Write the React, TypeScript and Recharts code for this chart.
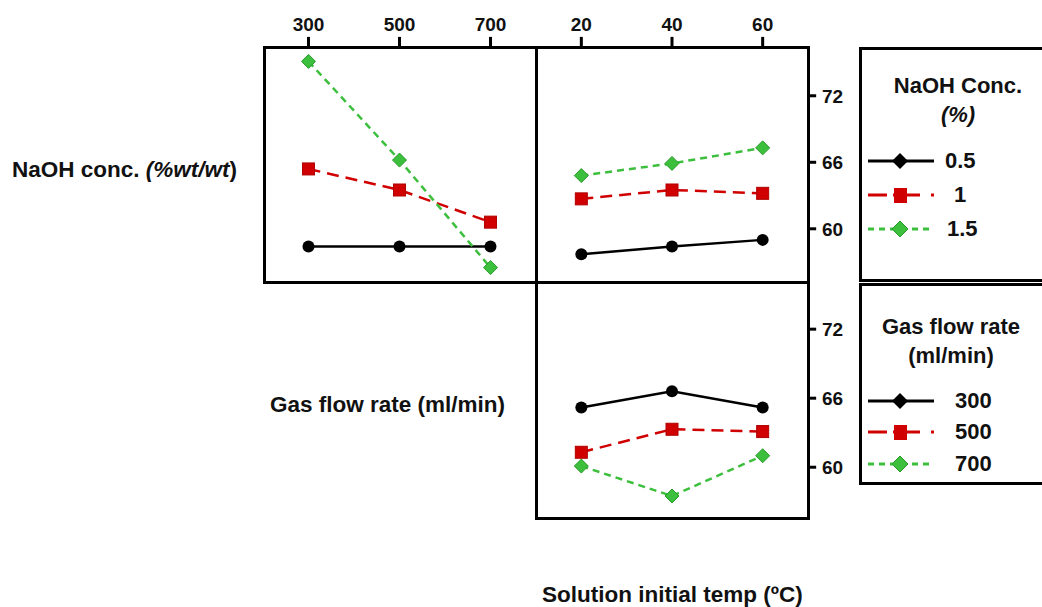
import { LineChart, Line, XAxis, YAxis, ReferenceLine } from "recharts";

const gasFlow = [300, 500, 700];
const temps = [20, 40, 60];

// top-left: yield vs gas flow, one line per NaOH conc.
const naoh05VsGas = [58.4, 58.4, 58.4];
const naoh1VsGas = [65.4, 63.5, 60.6];
const naoh15VsGas = [75.1, 66.2, 56.5];

// top-right: yield vs temp, one line per NaOH conc.
const naoh05VsTemp = [57.7, 58.4, 59.0];
const naoh1VsTemp = [62.7, 63.5, 63.2];
const naoh15VsTemp = [64.8, 65.9, 67.3];

// bottom-right: yield vs temp, one line per gas flow rate
const gas300VsTemp = [65.2, 66.6, 65.2];
const gas500VsTemp = [61.3, 63.3, 63.1];
const gas700VsTemp = [60.1, 57.5, 61.0];

const yTicks = [60, 66, 72];
const naohLabels = ["0.5", "1", "1.5"];
const gasLabels = ["300", "500", "700"];

const BLACK = "#000000";
const RED = "#d00000";
const GREEN = "#3cbf3c";
const FONT = "'Liberation Sans', Arial, sans-serif";

const TOP_Y_DOMAIN: [number, number] = [55.2, 76.4];
const BOTTOM_Y_DOMAIN: [number, number] = [55.5, 76.1];
const GAS_DOMAIN: [number, number] = [200, 800];
const TEMP_DOMAIN: [number, number] = [10, 70];

const gasData = gasFlow.map((x, i) => ({
  x,
  a: naoh05VsGas[i],
  b: naoh1VsGas[i],
  c: naoh15VsGas[i],
}));
const tempNaohData = temps.map((x, i) => ({
  x,
  a: naoh05VsTemp[i],
  b: naoh1VsTemp[i],
  c: naoh15VsTemp[i],
}));
const tempGasData = temps.map((x, i) => ({
  x,
  a: gas300VsTemp[i],
  b: gas500VsTemp[i],
  c: gas700VsTemp[i],
}));

function circleDot(props: any) {
  const { cx, cy, index } = props;
  return <circle key={`c-${index}`} cx={cx} cy={cy} r={6} fill={BLACK} />;
}

function squareDot(props: any) {
  const { cx, cy, index } = props;
  return (
    <rect key={`s-${index}`} x={cx - 6} y={cy - 6} width={12} height={12} fill={RED} stroke="#b00000" strokeWidth={1} />
  );
}

function diamondDot(props: any) {
  const { cx, cy, index } = props;
  const s = 7;
  return (
    <polygon
      key={`d-${index}`}
      points={`${cx},${cy - s} ${cx + s},${cy} ${cx},${cy + s} ${cx - s},${cy}`}
      fill={GREEN}
      stroke="#2a9a2a"
      strokeWidth={1}
    />
  );
}

function TopTick(props: any) {
  const x = Number(props.x);
  const y = Number(props.y);
  return (
    <text x={x} y={y - 2} textAnchor="middle" fontSize={19} fontWeight={700} fill="#111" fontFamily={FONT}>
      {props.payload.value}
    </text>
  );
}

function RightTick(props: any) {
  const x = Number(props.x);
  const y = Number(props.y);
  return (
    <text x={x} y={y + 7} textAnchor="start" fontSize={19} fontWeight={700} fill="#111" fontFamily={FONT}>
      {props.payload.value}
    </text>
  );
}

// short tick marks outside the frame, placed in data units through the scales
function topTickMarks(values: number[], yDomain: [number, number]) {
  const top = yDomain[1];
  const len = (yDomain[1] - yDomain[0]) * 0.043;
  return values.map((v) => (
    <ReferenceLine
      key={`tt-${v}`}
      segment={[
        { x: v, y: top },
        { x: v, y: top + len },
      ]}
      stroke="#000"
      strokeWidth={3}
      ifOverflow="visible"
    />
  ));
}

function rightTickMarks(values: number[], xDomain: [number, number]) {
  const right = xDomain[1];
  const len = (xDomain[1] - xDomain[0]) * 0.03;
  return values.map((v) => (
    <ReferenceLine
      key={`rt-${v}`}
      segment={[
        { x: right, y: v },
        { x: right + len, y: v },
      ]}
      stroke="#000"
      strokeWidth={3}
      ifOverflow="visible"
    />
  ));
}

function Series() {
  return [
    <Line key="a" dataKey="a" stroke={BLACK} strokeWidth={2.5} dot={circleDot} isAnimationActive={false} />,
    <Line key="b" dataKey="b" stroke={RED} strokeWidth={2.5} strokeDasharray="12 7" dot={squareDot} isAnimationActive={false} />,
    <Line key="c" dataKey="c" stroke={GREEN} strokeWidth={2.5} strokeDasharray="7 5" dot={diamondDot} isAnimationActive={false} />,
  ];
}

function Box({ left, top, width, height }: { left: number; top: number; width: number; height: number }) {
  return (
    <div
      style={{
        position: "absolute",
        left,
        top,
        width,
        height,
        border: "3px solid #000",
        boxSizing: "border-box",
        pointerEvents: "none",
      }}
    />
  );
}

function LegendSample({ kind }: { kind: "a" | "b" | "c" }) {
  if (kind === "a") {
    return (
      <svg width={72} height={20}>
        <line x1={2} y1={10} x2={68} y2={10} stroke={BLACK} strokeWidth={3} />
        <polygon points="34,2 42,10 34,18 26,10" fill={BLACK} />
      </svg>
    );
  }
  if (kind === "b") {
    return (
      <svg width={72} height={20}>
        <line x1={2} y1={10} x2={21} y2={10} stroke={RED} strokeWidth={3} />
        <line x1={27} y1={10} x2={54} y2={10} stroke={RED} strokeWidth={3} />
        <line x1={65} y1={10} x2={68} y2={10} stroke={RED} strokeWidth={3} />
        <rect x={28} y={3} width={13} height={15} fill={RED} />
      </svg>
    );
  }
  return (
    <svg width={72} height={20}>
      <line x1={2} y1={10} x2={68} y2={10} stroke={GREEN} strokeWidth={3} strokeDasharray="6 5" />
      <polygon points="34,2 42,10 34,18 26,10" fill={GREEN} stroke="#2a9a2a" strokeWidth={1} />
    </svg>
  );
}

function LegendBox({
  top,
  height,
  title1,
  title2,
  italic2,
  labels,
  titleTop,
  titleCenter,
  rowTops,
  textLeft,
}: {
  top: number;
  height: number;
  title1: string;
  title2: string;
  italic2: boolean;
  labels: string[];
  titleTop: number;
  titleCenter: number;
  rowTops: number[];
  textLeft: number[];
}) {
  const kinds: ("a" | "b" | "c")[] = ["a", "b", "c"];
  return (
    <>
      <Box left={859} top={top} width={200} height={height} />
      <div
        style={{
          position: "absolute",
          left: titleCenter - 100,
          top: titleTop,
          width: 200,
          textAlign: "center",
          fontFamily: FONT,
          fontWeight: 700,
          fontSize: 22,
          lineHeight: "29px",
          color: "#111",
        }}
      >
        <div>{title1}</div>
        <div style={{ fontStyle: italic2 ? "italic" : "normal" }}>{title2}</div>
      </div>
      {labels.map((label, i) => (
        <div key={label}>
          <div style={{ position: "absolute", left: 866, top: rowTops[i] - 10, lineHeight: 0 }}>
            <LegendSample kind={kinds[i]} />
          </div>
          <div
            style={{
              position: "absolute",
              left: textLeft[i],
              top: rowTops[i] - 13,
              fontFamily: FONT,
              fontWeight: 700,
              fontSize: 22,
              lineHeight: "26px",
              color: "#111",
            }}
          >
            {label}
          </div>
        </div>
      ))}
    </>
  );
}

const labelStyle = {
  position: "absolute" as const,
  fontFamily: FONT,
  fontWeight: 700,
  fontSize: 22.5,
  lineHeight: "26px",
  color: "#111",
  whiteSpace: "nowrap" as const,
};

export default function App() {
  return (
    <div style={{ position: "absolute", left: 0, top: 0, width: 1042, height: 607, background: "#fff", overflow: "hidden" }}>
      {/* top-left: vs gas flow */}
      <div style={{ position: "absolute", left: 263, top: 0 }}>
        <LineChart width={273} height={282} data={gasData} margin={{ top: 0, right: 0, bottom: 0, left: 0 }}>
          <XAxis
            dataKey="x"
            type="number"
            orientation="top"
            domain={GAS_DOMAIN}
            ticks={gasFlow}
            height={47}
            tickSize={10}
            tickMargin={4}
            axisLine={false}
            tickLine={false}
            tick={TopTick}
          />
          <YAxis hide domain={TOP_Y_DOMAIN} type="number" />
          {topTickMarks(gasFlow, TOP_Y_DOMAIN)}
          {Series()}
        </LineChart>
      </div>

      {/* top-right: vs temp, NaOH */}
      <div style={{ position: "absolute", left: 536, top: 0 }}>
        <LineChart width={322} height={282} data={tempNaohData} margin={{ top: 0, right: 0, bottom: 0, left: 0 }}>
          <XAxis
            dataKey="x"
            type="number"
            orientation="top"
            domain={TEMP_DOMAIN}
            ticks={temps}
            height={47}
            tickSize={10}
            tickMargin={4}
            axisLine={false}
            tickLine={false}
            tick={TopTick}
          />
          <YAxis
            orientation="right"
            domain={TOP_Y_DOMAIN}
            type="number"
            ticks={yTicks}
            width={50}
            tickSize={8}
            tickMargin={6}
            axisLine={false}
            tickLine={false}
            tick={RightTick}
          />
          {topTickMarks(temps, TOP_Y_DOMAIN)}
          {rightTickMarks(yTicks, TEMP_DOMAIN)}
          {Series()}
        </LineChart>
      </div>

      {/* bottom-right: vs temp, gas flow */}
      <div style={{ position: "absolute", left: 536, top: 282 }}>
        <LineChart width={322} height={237} data={tempGasData} margin={{ top: 0, right: 0, bottom: 0, left: 0 }}>
          <XAxis dataKey="x" type="number" domain={TEMP_DOMAIN} hide />
          <YAxis
            orientation="right"
            domain={BOTTOM_Y_DOMAIN}
            type="number"
            ticks={yTicks}
            width={50}
            tickSize={8}
            tickMargin={6}
            axisLine={false}
            tickLine={false}
            tick={RightTick}
          />
          {rightTickMarks(yTicks, TEMP_DOMAIN)}
          {Series()}
        </LineChart>
      </div>

      <Box left={263} top={46} width={275} height={238} />
      <Box left={535} top={46} width={275} height={238} />
      <Box left={535} top={281} width={275} height={239} />

      <LegendBox
        top={47}
        height={235}
        title1="NaOH Conc."
        title2="(%)"
        italic2
        labels={naohLabels}
        titleTop={71}
        titleCenter={958}
        rowTops={[161, 195, 229]}
        textLeft={[945, 954, 947]}
      />
      <LegendBox
        top={283}
        height={202}
        title1="Gas flow rate"
        title2="(ml/min)"
        italic2={false}
        labels={gasLabels}
        titleTop={312}
        titleCenter={951}
        rowTops={[401, 432, 464]}
        textLeft={[955, 955, 955]}
      />

      <div style={{ ...labelStyle, left: 12, top: 157 }}>
        NaOH conc. <i>(%wt/wt</i>)
      </div>
      <div style={{ ...labelStyle, left: 270, top: 392 }}>Gas flow rate (ml/min)</div>
      <div style={{ ...labelStyle, left: 542, top: 582 }}>Solution initial temp (ºC)</div>
    </div>
  );
}
